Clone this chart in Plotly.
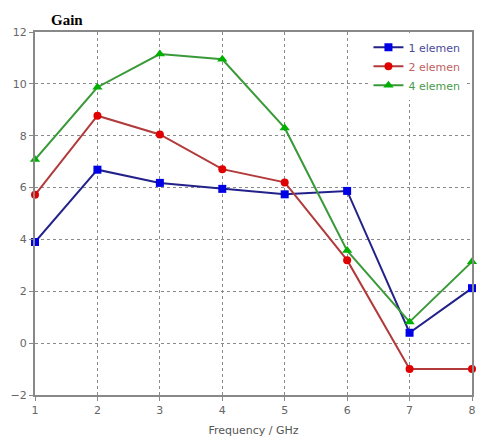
import plotly.graph_objects as go

freq = [1, 2, 3, 4, 5, 6, 7, 8]
gain_1 = [3.9, 6.69, 6.18, 5.95, 5.74, 5.87, 0.4, 2.12]
gain_2 = [5.72, 8.77, 8.05, 6.71, 6.2, 3.2, -1.0, -1.0]
gain_4 = [7.08, 9.87, 11.15, 10.95, 8.3, 3.57, 0.82, 3.14]
names = ["1 elemen", "2 elemen", "4 elemen"]
x_ticks = [1, 2, 3, 4, 5, 6, 7, 8]
y_ticks = [-2, 0, 2, 4, 6, 8, 10, 12]

fig = go.Figure()
series = [
    (gain_1, names[0], "#22228a", "#0000e6", "square", 8, "#4a4a9a"),
    (gain_2, names[1], "#b23a3a", "#e00000", "circle", 8, "#c06060"),
    (gain_4, names[2], "#3a9a3a", "#00b000", "triangle-up", 9, "#4a9a4a"),
]
for ys, nm, lc, mc, sym, ms, tc in series:
    fig.add_trace(go.Scatter(
        x=freq, y=ys, name=f"<span style='color:{tc}'>{nm}</span>",
        mode="lines+markers",
        line=dict(color=lc, width=2),
        marker=dict(color=mc, symbol=sym, size=ms),
        cliponaxis=False,
    ))

fig.update_layout(
    width=478, height=439,
    margin=dict(l=35, r=6, t=32, b=44, autoexpand=False),
    plot_bgcolor="white", paper_bgcolor="white",
    showlegend=True,
    legend=dict(
        x=0.985, y=0.998, xanchor="right", yanchor="top",
        bgcolor="white", borderwidth=0,
        font=dict(family="DejaVu Sans", size=11, color="#555577"),
        itemwidth=30, tracegroupgap=0,
    ),
    annotations=[dict(
        text="<b>Gain</b>", x=0, xref="paper", xanchor="left", xshift=14,
        y=1, yref="paper", yanchor="bottom", yshift=2, showarrow=False,
        font=dict(family="Liberation Serif", size=15, color="black"),
    )],
)
common = dict(
    showgrid=True, gridcolor="#8a8a8a", griddash="dot", gridwidth=1.2,
    showline=True, linecolor="#888888", linewidth=2, mirror=True,
    ticks="outside", ticklen=4, tickcolor="#888888",
    tickfont=dict(family="DejaVu Sans", size=11, color="#666666"),
    zeroline=False, automargin=False,
)
fig.update_xaxes(
    range=[1, 8], tickvals=x_ticks,
    title=dict(text="Frequency / GHz", standoff=10,
               font=dict(family="DejaVu Sans", size=11, color="#555555")),
    **common,
)
fig.update_yaxes(range=[-2, 12], tickvals=y_ticks, **common)
fig.write_html("out.html", config={"displayModeBar": False},
               post_script="document.body.style.margin='0';document.body.style.overflow='hidden';")
